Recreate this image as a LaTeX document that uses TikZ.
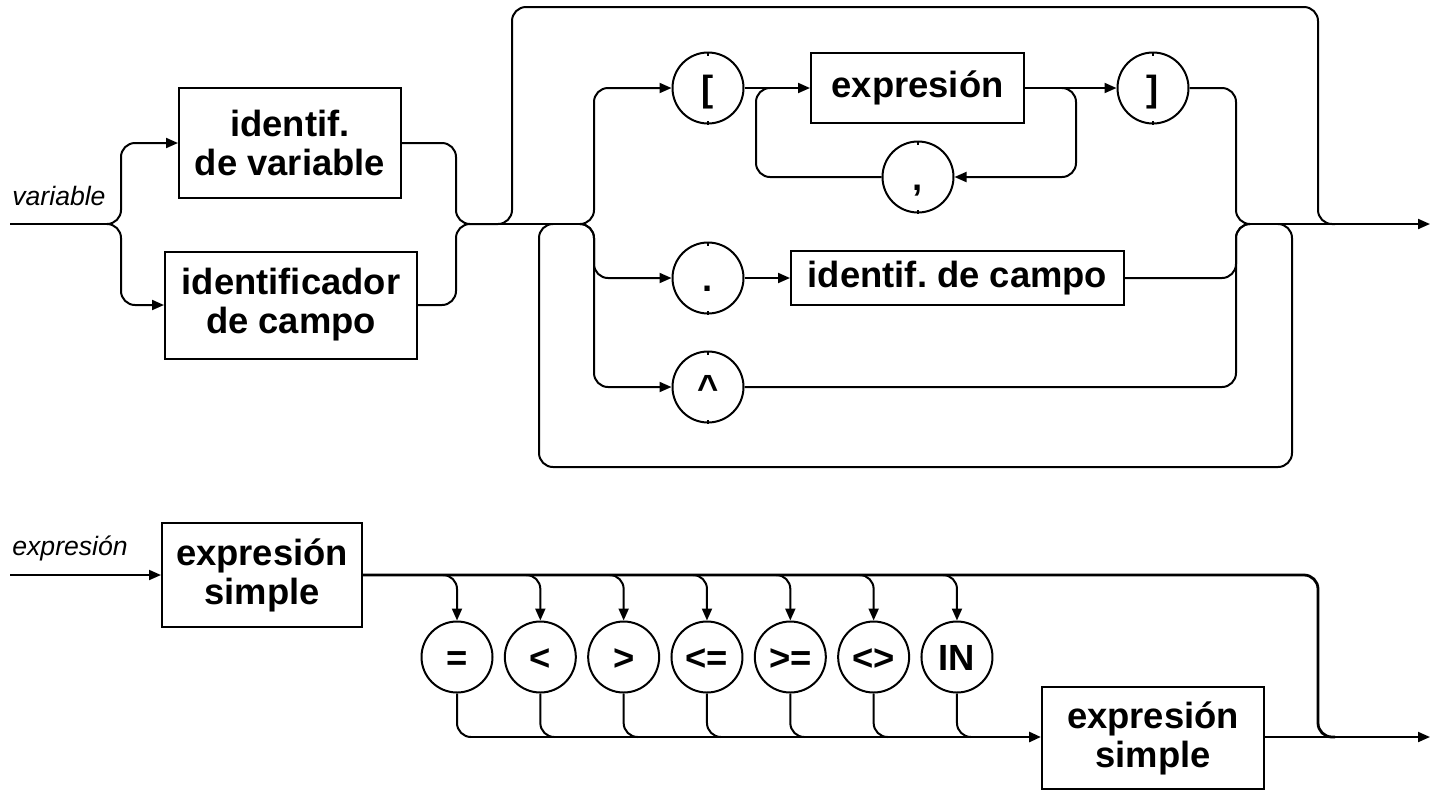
\documentclass[tikz,border=0pt]{standalone}
\usepackage{fontspec}
\setmainfont{Liberation Sans}
\usetikzlibrary{arrows.meta}
\newcommand\boxfont{\fontsize{18.2}{19.5}\selectfont\bfseries\frenchspacing}
\newcommand\lblfont{\fontsize{13.3}{15}\selectfont\itshape}
\begin{document}
\begin{tikzpicture}[x=0.5pt,y=-0.5pt,
  line/.style={line width=1pt, rounded corners=7pt},
  heavy/.style={line, line width=1.4pt},
  arr/.style={line, -{Triangle[length=6pt,width=5pt]}},
  tick/.style={line width=0.6pt},
  box/.style={draw, line width=1pt, inner sep=0pt, align=center, font=\boxfont},
  term/.style={draw, circle, line width=1pt, inner sep=0pt, minimum size=35.5pt,
               text height=13pt, text depth=0pt, font=\boxfont},
  lbl/.style={font=\lblfont, anchor=base west, inner sep=0pt}]
\useasboundingbox (0,0) rectangle (1431,789);

% ---------- variable ----------
\node[lbl] (lab1) at (12,205) {variable};
\node[box, minimum width=111pt, minimum height=55pt] (idv) at (290,143) {identif.\\de variable};
\node[box, minimum width=126pt, minimum height=53.5pt] (idc) at (291,305) {identificador\\de campo};

\node[term] (lbrack) at (708,88) {[};
\node[box, minimum width=106.5pt, minimum height=35pt] (expr) at (917.5,88) {expresión};
\node[term] (rbrack) at (1153,88) {]};
\node[term] (comma) at (918,177) {,};
\node[term] (dot) at (708,278) {.};
\node[box, minimum width=166.5pt, minimum height=27pt] (idcampo) at (957.5,278) {identif. de campo};
\node[term] (caret) at (708,387) {\textasciicircum};

% small marks at the poles of the terminal symbols
\foreach \n in {lbrack,rbrack,comma,dot,caret}{
  \draw[tick] (\n.north) -- ++(0,4);
  \draw[tick] (\n.south) -- ++(0,-4);
}

\coordinate (in1) at (10,224);
\coordinate (j1) at (107,224);
\coordinate (bl) at (121,224);
\coordinate (br) at (456,224);
\coordinate (j2) at (470,224);
\coordinate (sp) at (580,224);
\coordinate (sv) at (594,224);
\coordinate (byL) at (512,7);
\coordinate (byR) at (1318,7);
\coordinate (byE) at (1335,224);
\coordinate (mv) at (1236,224);
\coordinate (jm) at (1250,224);
\coordinate (lbS) at (1278,224);
\coordinate (lbR) at (1292,467);
\coordinate (lbL) at (539,224);
\coordinate (lbE) at (553,224);
\coordinate (out1) at (1430,224);
\coordinate (cl) at (756,88);
\coordinate (cl2) at (770,88);
\coordinate (cr0) at (1062,88);
\coordinate (cr) at (1076,177);

% entry and first alternative
\draw[line] (in1) -- (j1);
\draw[arr] (j1) -- (bl) |- (idv.west);
\draw[arr] (j1) -- (bl) |- (idc.west);
\draw[line] (idv.east) -| (br) -- (j2);
\draw[line] (idc.east) -| (br) -- (j2);
\draw[line] (j2) -- (sp);

% bypass above and repetition below
\draw[line] (j2) -| (byL) -- (byR) |- (byE);
\draw[line] (lbS) -| (lbR) -| (lbL) -- (lbE);

% selectors
\draw[arr] (sp) -- (sv) |- (lbrack.west);
\draw[arr] (sp) -- (sv) |- (dot.west);
\draw[arr] (sp) -- (sv) |- (caret.west);
\draw[arr] (lbrack) -- (expr);
\draw[arr] (expr) -- (rbrack);
\draw[arr] (cr0) -| (cr) -- (comma.east);
\draw[line] (comma.west) -| (cl) -- (cl2);
\draw[arr] (dot) -- (idcampo);
\draw[line] (rbrack.east) -| (mv) -- (jm);
\draw[line] (idcampo.east) -| (mv) -- (jm);
\draw[line] (caret.east) -| (mv) -- (jm);
\draw[arr] (jm) -- (out1);

% ---------- expresion ----------
\node[lbl] (lab2) at (12,555) {expresión};
\node[box, minimum width=100pt, minimum height=52pt] (se1) at (262,575) {expresión\\simple};
\node[box, minimum width=111pt, minimum height=51pt] (se2) at (1153,738) {expresión\\simple};

\coordinate (in2) at (10,575);
\coordinate (tR) at (1318,737);
\coordinate (tE) at (1335,737);
\coordinate (out2) at (1430,737);

\draw[arr] (in2) -- (se1.west);
\draw[heavy] (se1.east) -| (tR) -- (tE);
\draw[arr] (se2.east |- out2) -- (out2);

\foreach \s [count=\i] in {=,<,>,<=,>=,<>,IN}{
  \pgfmathsetmacro{\cx}{457+83.33*(\i-1)}
  \node[term] (op\i) at (\cx,657) {\s};
  \coordinate (t\i) at (\cx-14,575);
  \coordinate (b\i) at (\cx+14,737);
  \draw[arr] (t\i) -| (op\i.north);
  \draw[line] (op\i.south) |- (b\i);
}
\draw[arr, line width=1.4pt] (b1) -- (se2.west |- b1);
\end{tikzpicture}
\end{document}
